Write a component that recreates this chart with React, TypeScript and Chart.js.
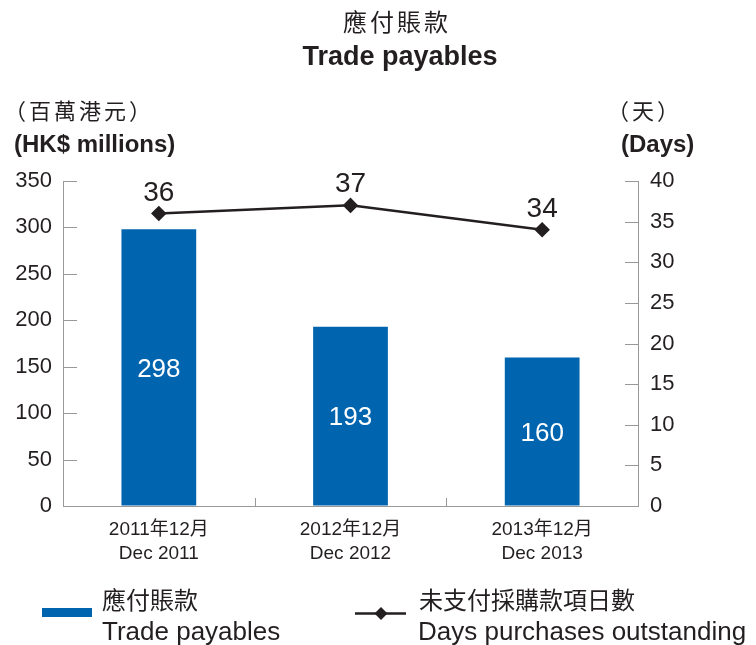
import { useEffect, useRef } from "react";
import { Chart, registerables } from "chart.js";

Chart.register(...registerables);

const titleZh = "應付賬款";
const titleEn = "Trade payables";
const categoriesZh = ["2011年12月", "2012年12月", "2013年12月"];
const categoriesEn = ["Dec 2011", "Dec 2012", "Dec 2013"];
const tradePayables = [298, 193, 160];
const daysOutstanding = [36, 37, 34];
const leftAxisZh = "（百萬港元）";
const leftAxisEn = "(HK$ millions)";
const rightAxisZh = "（天）";
const rightAxisEn = "(Days)";
const legendBarZh = "應付賬款";
const legendBarEn = "Trade payables";
const legendLineZh = "未支付採購款項日數";
const legendLineEn = "Days purchases outstanding";

const FONT = '"Liberation Sans", "Noto Sans CJK TC", sans-serif';
const CJK = '"Noto Sans CJK TC", "Liberation Sans", sans-serif';
const BLUE = "#0064AF";
const DARK = "#231F20";
const AXIS = "#999999";

const decorPlugin = {
  id: "decor",
  afterDatasetsDraw(chart: any) {
    const ctx = chart.ctx;
    const area = chart.chartArea;
    ctx.save();
    ctx.strokeStyle = AXIS;
    ctx.lineWidth = 1;
    const yl = chart.scales.y;
    const yr = chart.scales.y1;
    const xs = chart.scales.x;
    yl.ticks.forEach((t: any) => {
      const py = Math.round(yl.getPixelForValue(t.value)) + 0.5;
      ctx.beginPath();
      ctx.moveTo(area.left, py);
      ctx.lineTo(area.left + 14, py);
      ctx.stroke();
    });
    yr.ticks.forEach((t: any) => {
      const py = Math.round(yr.getPixelForValue(t.value)) + 0.5;
      ctx.beginPath();
      ctx.moveTo(area.right, py);
      ctx.lineTo(area.right - 13, py);
      ctx.stroke();
    });
    const n = categoriesZh.length;
    for (let i = 1; i < n; i++) {
      const px = Math.round((xs.getPixelForValue(i - 1) + xs.getPixelForValue(i)) / 2) + 0.5;
      ctx.beginPath();
      ctx.moveTo(px, area.bottom);
      ctx.lineTo(px, area.bottom - 8);
      ctx.stroke();
    }
    const barMeta = chart.getDatasetMeta(0);
    ctx.fillStyle = "#FFFFFF";
    ctx.font = `26px ${FONT}`;
    ctx.textAlign = "center";
    ctx.textBaseline = "middle";
    barMeta.data.forEach((el: any, i: number) => {
      ctx.fillText(String(tradePayables[i]), el.x, (el.y + el.base) / 2 + 2);
    });
    const lineMeta = chart.getDatasetMeta(1);
    ctx.fillStyle = DARK;
    ctx.font = `28px ${FONT}`;
    ctx.textBaseline = "alphabetic";
    lineMeta.data.forEach((el: any, i: number) => {
      ctx.fillText(String(daysOutstanding[i]), el.x, el.y - 13);
    });
    ctx.restore();
  },
  afterDraw(chart: any) {
    const ctx = chart.ctx;
    ctx.save();
    ctx.fillStyle = DARK;
    // title
    ctx.textAlign = "center";
    ctx.textBaseline = "middle";
    ctx.font = `24px ${CJK}`;
    (ctx as any).letterSpacing = "3px";
    ctx.fillText(titleZh, 397, 22);
    (ctx as any).letterSpacing = "0px";
    ctx.textBaseline = "alphabetic";
    ctx.font = `bold 27px ${FONT}`;
    ctx.fillText(titleEn, 400, 65);
    // axis titles
    ctx.textAlign = "left";
    ctx.textBaseline = "middle";
    ctx.font = `22px ${CJK}`;
    (ctx as any).letterSpacing = "3px";
    ctx.fillText(leftAxisZh, 4, 111);
    ctx.fillText(rightAxisZh, 607, 111);
    (ctx as any).letterSpacing = "0px";
    ctx.textBaseline = "alphabetic";
    ctx.font = `bold 24px ${FONT}`;
    ctx.fillText(leftAxisEn, 14, 152);
    ctx.fillText(rightAxisEn, 621, 152);
    // legend
    ctx.fillStyle = BLUE;
    ctx.fillRect(42, 608, 50, 9);
    ctx.fillStyle = DARK;
    ctx.textBaseline = "middle";
    ctx.font = `24px ${CJK}`;
    ctx.fillText(legendBarZh, 102, 600);
    ctx.fillText(legendLineZh, 419, 600);
    ctx.textBaseline = "alphabetic";
    ctx.font = `26px ${FONT}`;
    ctx.fillText(legendBarEn, 102, 640);
    ctx.fillText(legendLineEn, 418, 640);
    ctx.strokeStyle = DARK;
    ctx.lineWidth = 2.5;
    ctx.beginPath();
    ctx.moveTo(355, 613.5);
    ctx.lineTo(406, 613.5);
    ctx.stroke();
    ctx.beginPath();
    ctx.moveTo(381, 607);
    ctx.lineTo(387.5, 613.5);
    ctx.lineTo(381, 620);
    ctx.lineTo(374.5, 613.5);
    ctx.closePath();
    ctx.fill();
    ctx.restore();
  },
};

export default function App() {
  const ref = useRef<HTMLCanvasElement | null>(null);
  useEffect(() => {
    if (!ref.current) return;
    const chart = new Chart(ref.current, {
      type: "bar",
      data: {
        labels: categoriesZh.map((z, i) => [z, categoriesEn[i]]),
        datasets: [
          {
            type: "bar",
            label: legendBarEn,
            data: tradePayables,
            backgroundColor: BLUE,
            yAxisID: "y",
            barPercentage: 0.39,
            categoryPercentage: 1,
            order: 1,
          },
          {
            type: "line",
            label: legendLineEn,
            data: daysOutstanding,
            borderColor: DARK,
            backgroundColor: DARK,
            borderWidth: 2.5,
            pointStyle: "rectRot",
            pointRadius: 6,
            pointHoverRadius: 6,
            yAxisID: "y1",
            order: 0,
          } as any,
        ],
      },
      options: {
        responsive: false,
        animation: false,
        layout: { padding: { top: 181, left: 0, right: 0, bottom: 0 } },
        plugins: { legend: { display: false }, tooltip: { enabled: false } },
        scales: {
          x: {
            grid: { display: false },
            border: { color: AXIS, width: 1 },
            ticks: { color: DARK, font: { family: FONT, size: 19, lineHeight: 1.3 }, padding: 3 },
            afterFit: (s: any) => { s.height = 139; },
          },
          y: {
            position: "left",
            min: 0,
            max: 350,
            ticks: { stepSize: 50, color: DARK, font: { family: FONT, size: 22 }, padding: 11 },
            grid: { drawOnChartArea: false, drawTicks: false },
            border: { color: AXIS, width: 1 },
            afterFit: (s: any) => { s.width = 63; },
          },
          y1: {
            position: "right",
            min: 0,
            max: 40,
            ticks: { stepSize: 5, color: DARK, font: { family: FONT, size: 22 }, padding: 12 },
            grid: { drawOnChartArea: false, drawTicks: false },
            border: { color: AXIS, width: 1 },
            afterFit: (s: any) => { s.width = 118; },
          },
        },
      } as any,
      plugins: [decorPlugin],
    });
    return () => chart.destroy();
  }, []);
  return (
    <div style={{ position: "fixed", left: 0, top: 0, width: 756, height: 645, background: "#fff" }}>
      <canvas ref={ref} width={756} height={645} style={{ width: 756, height: 645, display: "block" }} />
    </div>
  );
}
